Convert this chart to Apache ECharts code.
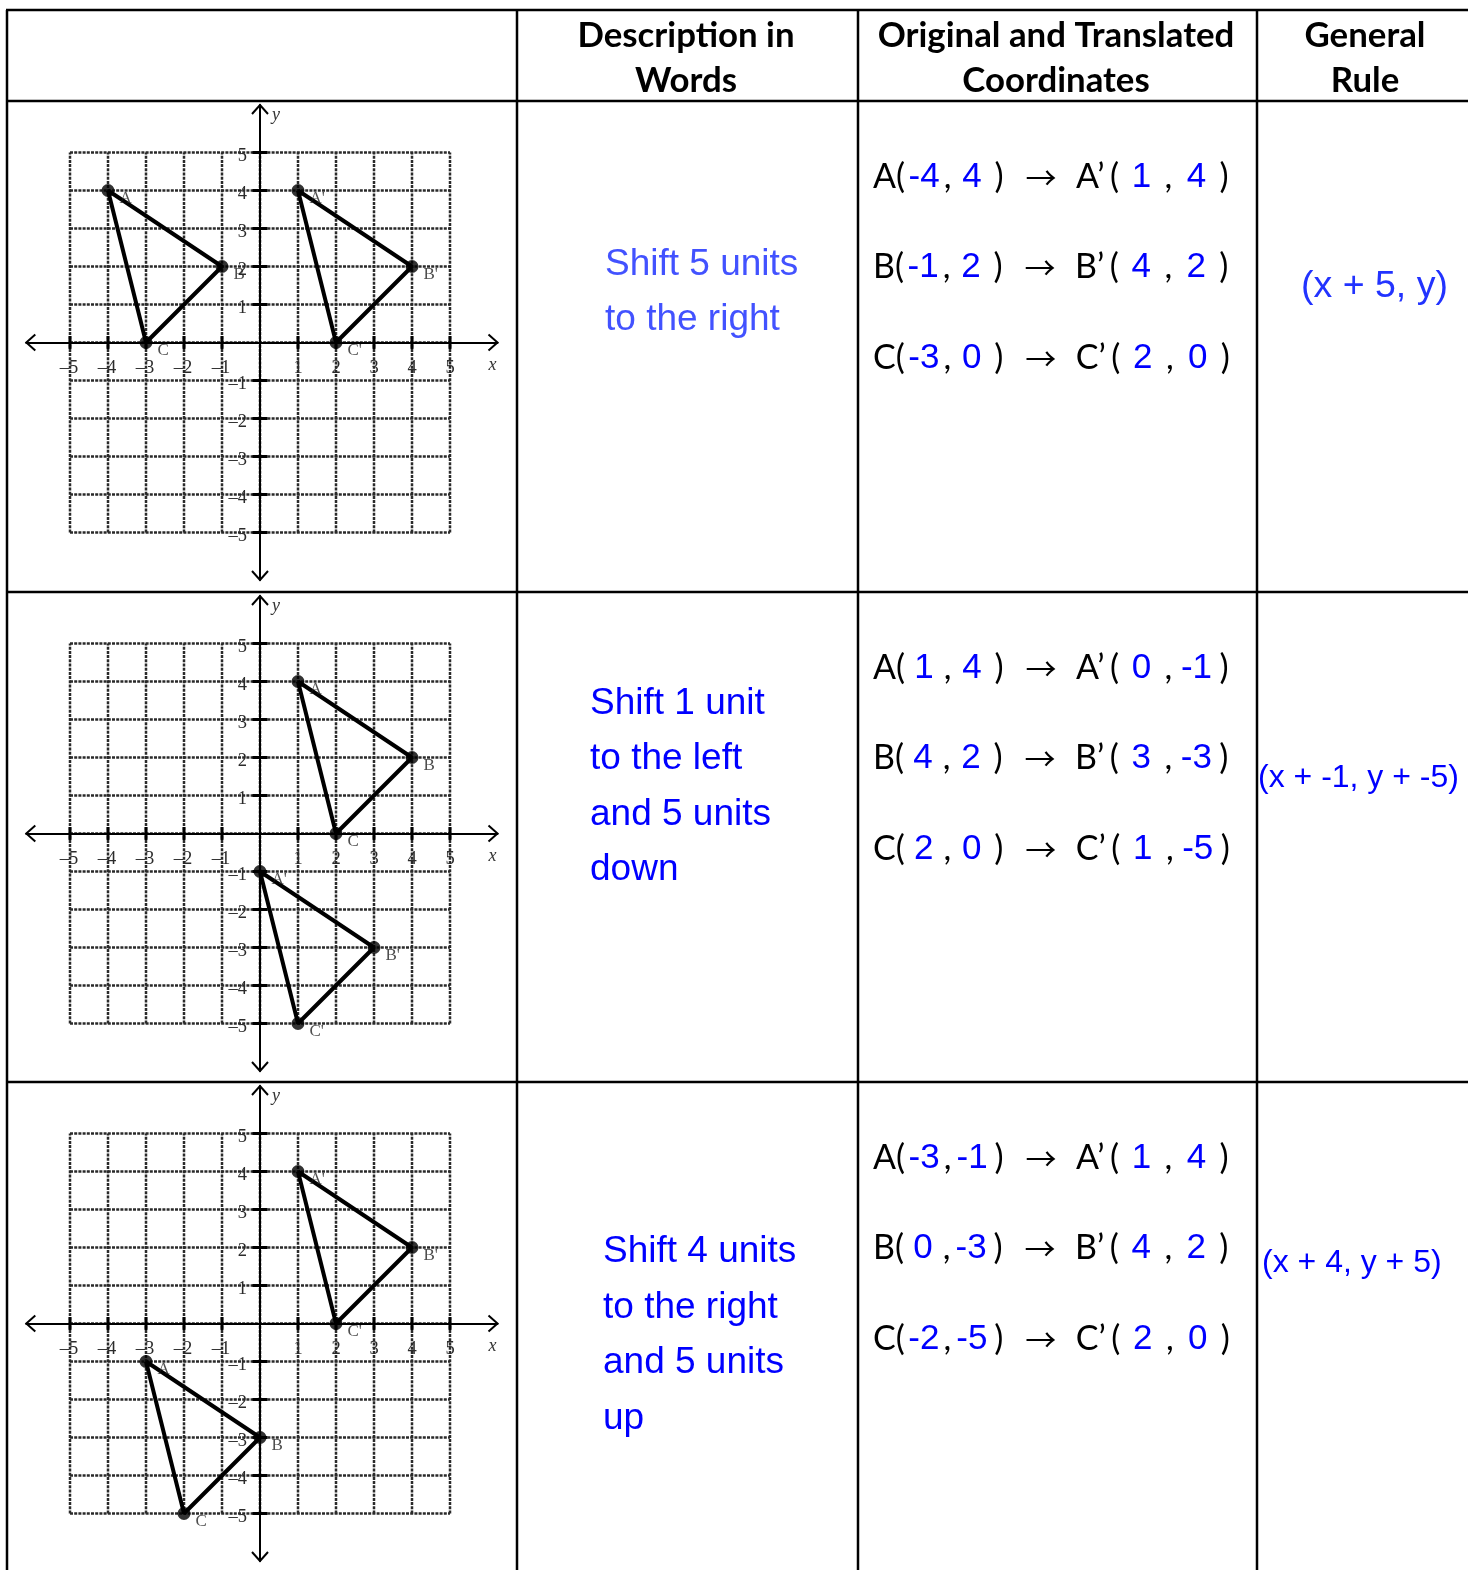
<!DOCTYPE html>
<html>
<head>
<meta charset="utf-8">
<script src="https://cdn.jsdelivr.net/npm/echarts@6/dist/echarts.min.js"></script>
<style>
html,body{margin:0;padding:0;background:#fff;}
#chart{width:1468px;height:1570px;}
</style>
</head>
<body>
<div id="chart"></div>
<script>
// ---------- DATA ----------
const headerTitles = ['Description in\nWords', 'Original and Translated\nCoordinates', 'General\nRule'];
const descriptions = [
  ['Shift 5 units', 'to the right'],
  ['Shift 1 unit', 'to the left', 'and 5 units', 'down'],
  ['Shift 4 units', 'to the right', 'and 5 units', 'up']
];
const vertexNames = ['A', 'B', 'C'];
const originalPoints = [
  [[-4, 4], [-1, 2], [-3, 0]],
  [[1, 4], [4, 2], [2, 0]],
  [[-3, -1], [0, -3], [-2, -5]]
];
const translatedPoints = [
  [[1, 4], [4, 2], [2, 0]],
  [[0, -1], [3, -3], [1, -5]],
  [[1, 4], [4, 2], [2, 0]]
];
const generalRules = ['(x + 5, y)', '(x + -1, y + -5)', '(x + 4, y + 5)'];
const gridValues = [-5, -4, -3, -2, -1, 0, 1, 2, 3, 4, 5];
const tickLabelValues = [-5, -4, -3, -2, -1, 1, 2, 3, 4, 5];

// ---------- LAYOUT / STYLE ----------
const W = 1468, H = 1570;
const rowTops = [101, 592, 1082];
const colX = [7, 517, 858, 1257];
const UNIT = 38;
const originX = 260;
const originOffsetY = 241.5;
const xExtent = [-6.15, 6.25];
const yExtent = [-6.25, 6.25];
const TICK = 6.5;
const descColors = ['#4252ff', '#0000ff', '#0000ff'];
const ruleColors = ['#2233ff', '#0000ff', '#0000ff'];
const descX = [605, 590, 603];
const descFirstY = [264.5, 703.5, 1252];
const descLineGap = 55.5;
const ruleX = [1301, 1258, 1262];
const ruleY = [287, 778, 1263];
const ruleSize = [37.5, 32, 32];
const coordX = 873;
const coordOffsets = [76, 166, 257];

const serif = 'Liberation Serif, Times New Roman, serif';

// ---------- helpers ----------
function fmtNeg(v) { return v < 0 ? '\u2013' + Math.abs(v) : String(v); }

const grids = [], xAxes = [], yAxes = [], series = [];
rowTops.forEach((top, i) => {
  const oy = top + originOffsetY;
  grids.push({
    left: originX + xExtent[0] * UNIT,
    width: (xExtent[1] - xExtent[0]) * UNIT,
    top: oy - yExtent[1] * UNIT,
    height: (yExtent[1] - yExtent[0]) * UNIT,
    containLabel: false,
    outerBoundsMode: 'none'
  });
  xAxes.push({
    type: 'value', gridIndex: i, min: xExtent[0], max: xExtent[1],
    axisLine: { show: true, onZero: true, lineStyle: { color: '#000', width: 2 } },
    axisTick: { show: false }, splitLine: { show: false }, axisLabel: { show: false }
  });
  yAxes.push({
    type: 'value', gridIndex: i, min: yExtent[0], max: yExtent[1],
    axisLine: { show: true, onZero: true, lineStyle: { color: '#000', width: 2 } },
    axisTick: { show: false }, splitLine: { show: false }, axisLabel: { show: false }
  });

  // dotted graph-paper grid
  series.push({
    type: 'custom', xAxisIndex: i, yAxisIndex: i, z: -1, silent: true,
    data: gridValues.map(v => [v, v]),
    encode: { x: 0, y: 1 },
    clip: false,
    renderItem: function (params, api) {
      const k = api.value(0);
      const gmin = gridValues[0], gmax = gridValues[gridValues.length - 1];
      const a = api.coord([k, gmin]), b = api.coord([k, gmax]);
      const c = api.coord([gmin, k]), d = api.coord([gmax, k]);
      const st = { stroke: '#2a2a2a', lineWidth: 2.5, lineDash: [3, 1.2] };
      return {
        type: 'group', children: [
          { type: 'line', shape: { x1: a[0], y1: a[1], x2: b[0], y2: b[1] }, style: st },
          { type: 'line', shape: { x1: c[0], y1: c[1], x2: d[0], y2: d[1] }, style: st }
        ]
      };
    }
  });

  // ticks, tick labels, arrowheads and axis names
  series.push({
    type: 'custom', xAxisIndex: i, yAxisIndex: i, z: 1, silent: true,
    data: [[0, 0]], encode: { x: 0, y: 1 }, clip: false,
    renderItem: function (params, api) {
      const ch = [];
      gridValues.forEach(v => {
        if (v === 0) return;
        const p = api.coord([v, 0]);
        ch.push({ type: 'line', shape: { x1: p[0], y1: p[1] - TICK, x2: p[0], y2: p[1] + TICK }, style: { stroke: '#000', lineWidth: 3 } });
        const q = api.coord([0, v]);
        ch.push({ type: 'line', shape: { x1: q[0] - TICK - 1, y1: q[1], x2: q[0] + TICK + 1, y2: q[1] }, style: { stroke: '#000', lineWidth: 3 } });
      });
      tickLabelValues.forEach(v => {
        const p = api.coord([v, 0]);
        ch.push({ type: 'text', x: p[0] - (v < 0 ? 1 : 0), y: p[1] + 26, style: { text: fmtNeg(v), font: '18.5px ' + serif, fill: '#2b2b2b', align: 'center', verticalAlign: 'middle' } });
        const q = api.coord([0, v]);
        ch.push({ type: 'text', x: q[0] - 13, y: q[1] + 4, style: { text: fmtNeg(v), font: '18.5px ' + serif, fill: '#2b2b2b', align: 'right', verticalAlign: 'middle' } });
      });
      const L = api.coord([xExtent[0], 0]), R = api.coord([xExtent[1], 0]);
      const D = api.coord([0, yExtent[0]]), U = api.coord([0, yExtent[1]]);
      const ast = { stroke: '#000', lineWidth: 2, fill: null };
      ch.push({ type: 'polyline', shape: { points: [[L[0] + 9, L[1] - 8], L, [L[0] + 9, L[1] + 8]] }, style: ast });
      ch.push({ type: 'polyline', shape: { points: [[R[0] - 9, R[1] - 8], R, [R[0] - 9, R[1] + 8]] }, style: ast });
      ch.push({ type: 'polyline', shape: { points: [[U[0] - 8, U[1] + 9], U, [U[0] + 8, U[1] + 9]] }, style: ast });
      ch.push({ type: 'polyline', shape: { points: [[D[0] - 8, D[1] - 9], D, [D[0] + 8, D[1] - 9]] }, style: ast });
      const xn = api.coord([6.12, -0.6]), yn = api.coord([0.42, 5.97]);
      ch.push({ type: 'text', x: xn[0], y: xn[1], style: { text: 'x', font: 'italic 18px ' + serif, fill: '#333', align: 'center', verticalAlign: 'middle' } });
      ch.push({ type: 'text', x: yn[0], y: yn[1], style: { text: 'y', font: 'italic 18px ' + serif, fill: '#333', align: 'center', verticalAlign: 'middle' } });
      return { type: 'group', children: ch };
    }
  });

  // triangles
  [[originalPoints[i], ''], [translatedPoints[i], "'"]].forEach(([pts, suffix]) => {
    series.push({
      type: 'line', xAxisIndex: i, yAxisIndex: i, z: 3, silent: true,
      data: pts.concat([pts[0]]), showSymbol: false, symbol: 'none',
      lineStyle: { color: '#000', width: 4 }, animation: false
    });
    series.push({
      type: 'scatter', xAxisIndex: i, yAxisIndex: i, z: 4, silent: true,
      symbol: 'circle', symbolSize: 13, itemStyle: { color: '#000' },
      data: pts.map((p, j) => ({ value: p, name: vertexNames[j] + suffix })),
      label: {
        show: true, position: 'right', distance: 5, offset: [0, 8],
        formatter: '{b}', fontFamily: serif, fontSize: 17, color: '#222'
      }
    });
  });
});

// ---------- table graphics ----------
const graphics = [];
const lineStyle = { stroke: '#000', lineWidth: 2.5 };
graphics.push({ type: 'line', shape: { x1: colX[0] - 1, y1: 10, x2: W, y2: 10 }, style: lineStyle });
rowTops.forEach(y => graphics.push({ type: 'line', shape: { x1: colX[0] - 1, y1: y, x2: W, y2: y }, style: lineStyle }));
colX.forEach(x => graphics.push({ type: 'line', shape: { x1: x, y1: 10, x2: x, y2: H }, style: lineStyle }));

const headerCenters = [686, 1056, 1365];
headerTitles.forEach((t, k) => {
  graphics.push({
    type: 'text', x: headerCenters[k], y: 58,
    style: { text: t, font: 'bold 34.8px Lato, "Open Sans", sans-serif', fill: '#000', align: 'center', verticalAlign: 'middle', lineHeight: 45 }
  });
});

descriptions.forEach((lines, i) => {
  lines.forEach((ln, j) => {
    graphics.push({
      type: 'text', x: descX[i], y: descFirstY[i] + j * descLineGap,
      style: { text: ln, font: '37px "Liberation Sans", Arial, sans-serif', fill: descColors[i], align: 'left', verticalAlign: 'middle' }
    });
  });
});

const LATO = 'Lato, "Open Sans", sans-serif';
const ARIAL = '"Liberation Sans", Arial, sans-serif';
const BLUE = '#0000ff';
const rich = {
  k:  { fontFamily: LATO, fontSize: 34, fill: '#000' },
  n1: { fontFamily: ARIAL, fontSize: 35, fill: BLUE, width: 38, align: 'center' },
  c1: { fontFamily: LATO, fontSize: 34, fill: '#000', width: 9, align: 'left' },
  n2: { fontFamily: ARIAL, fontSize: 35, fill: BLUE, width: 40, align: 'center' },
  r1: { fontFamily: LATO, fontSize: 34, fill: '#000', width: 14, align: 'right' },
  ar: { fontFamily: '"Noto Sans CJK SC", "DejaVu Sans", sans-serif', fontSize: 31, fill: '#000', width: 70, align: 'center' },
  lp: { fontFamily: LATO, fontSize: 34, fill: '#000', width: 20, align: 'right' },
  m1: { fontFamily: ARIAL, fontSize: 35, fill: BLUE, width: 34, align: 'center' },
  c2: { fontFamily: LATO, fontSize: 34, fill: '#000', width: 20, align: 'center' },
  m2: { fontFamily: ARIAL, fontSize: 35, fill: BLUE, width: 36, align: 'center' },
  r2: { fontFamily: LATO, fontSize: 34, fill: '#000', width: 14, align: 'right' }
};
originalPoints.forEach((pts, i) => {
  pts.forEach((o, j) => {
    const t = translatedPoints[i][j];
    const n = vertexNames[j];
    const txt = '{k|' + n + '(}{n1|' + o[0] + '}{c1|,}{n2|' + o[1] + '}{r1|)}{ar|\u2192}{k|' + n + '\u2019}{lp|(}{m1|' + t[0] + '}{c2|,}{m2|' + t[1] + '}{r2|)}';
    graphics.push({
      type: 'text', x: coordX, y: rowTops[i] + coordOffsets[j],
      style: { text: txt, rich: rich, align: 'left', verticalAlign: 'middle' }
    });
  });
});

generalRules.forEach((r, i) => {
  graphics.push({
    type: 'text', x: ruleX[i], y: ruleY[i],
    style: { text: r, font: ruleSize[i] + 'px ' + ARIAL, fill: ruleColors[i], align: 'left', verticalAlign: 'middle' }
  });
});

const chart = echarts.init(document.getElementById('chart'), null, { renderer: 'canvas', width: W, height: H });
chart.setOption({
  backgroundColor: '#fff',
  animation: false,
  grid: grids,
  xAxis: xAxes,
  yAxis: yAxes,
  series: series,
  graphic: graphics
});
</script>
</body>
</html>
